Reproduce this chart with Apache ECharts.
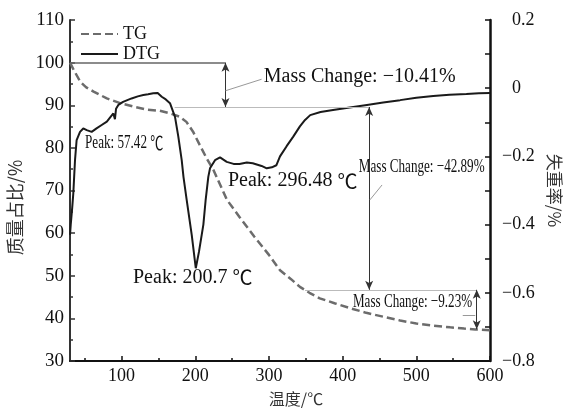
<!DOCTYPE html>
<html>
<head>
<meta charset="utf-8">
<script src="https://cdn.jsdelivr.net/npm/echarts@6/dist/echarts.min.js"></script>
<style>
html, body { margin: 0; padding: 0; background: #fff; }
#chart { width: 564px; height: 408px; }
</style>
</head>
<body>
<div id="chart"></div>
<script>
// TG 曲线 (左轴 质量占比 %)
const tgTemp = [30, 35, 44, 52, 62, 80, 98, 116, 134, 152, 166, 179, 188, 197, 206, 215, 225, 243, 260, 280, 300, 315, 330, 342, 355, 369, 390, 410, 432, 455, 478, 500, 523, 546, 565, 580, 600];
const tgMass = [100, 98.3, 95.5, 94.2, 93.2, 91.6, 90.5, 89.7, 89.0, 88.7, 88.1, 87.3, 86.1, 83.8, 80.7, 77.7, 74.7, 67.8, 63.8, 59.2, 54.9, 51.3, 49.2, 47.4, 46.0, 44.7, 43.5, 42.4, 41.3, 40.4, 39.5, 38.8, 38.3, 37.9, 37.6, 37.4, 37.2];

// DTG 曲线 (右轴 失重率 %)
const dtgTemp = [30, 31, 33, 34.5, 36.8, 39, 43.6, 48, 52.7, 59.4, 66, 73, 80, 88.8, 91, 92.5, 95.6, 102, 113.6, 122, 129.5, 136, 143, 149, 154.5, 160, 165.7, 172.5, 177, 181.6, 184, 188.4, 195.2, 198, 200.7, 205, 211, 214, 217.7, 220, 226.8, 233.6, 242.7, 252, 260, 270, 278, 290, 297, 304, 310, 315, 324, 333, 342, 349, 356, 370, 387, 405, 433, 455, 478, 500, 523, 545, 568, 585, 600];
const dtgRate = [-0.43, -0.40, -0.35, -0.308, -0.211, -0.152, -0.128, -0.118, -0.123, -0.128, -0.118, -0.108, -0.098, -0.074, -0.091, -0.06, -0.049, -0.040, -0.030, -0.024, -0.020, -0.018, -0.015, -0.014, -0.025, -0.033, -0.044, -0.084, -0.142, -0.211, -0.26, -0.328, -0.43, -0.48, -0.528, -0.48, -0.40, -0.33, -0.26, -0.235, -0.211, -0.203, -0.216, -0.222, -0.222, -0.218, -0.22, -0.228, -0.235, -0.232, -0.226, -0.20, -0.17, -0.142, -0.112, -0.093, -0.079, -0.07, -0.064, -0.058, -0.049, -0.042, -0.035, -0.028, -0.023, -0.019, -0.017, -0.015, -0.014];

// 横轴刻度
const xMajorTicks = [100, 200, 300, 400, 500, 600];
const xMinorTicks = [50, 150, 250, 350, 450, 550];

// 三个失重阶段
const stepTemp = [241, 436, 582];
const stepFrom = [100, 89.59, 46.70];
const stepTo = [89.59, 46.70, 37.47];
const stepStart = [30, 172, 349];
const stepLabel = ['Mass Change: \u221210.41%', 'Mass Change: \u221242.89%', 'Mass Change: \u22129.23%'];
const peakLabel = ['Peak: 57.42 {c|\u2103}', 'Peak: 200.7 {c|\u2103}', 'Peak: 296.48 {c|\u2103}'];

const serif = "'Liberation Serif', serif";
const cjk = "'Noto Sans CJK SC', sans-serif";

const dom = document.getElementById('chart');
const myChart = echarts.init(dom);

function fmtRight(v) {
    let s = (Math.round(v * 10) / 10).toString();
    if (Math.abs(v) < 1e-9) s = '0';
    if (v < -1e-9) return s.replace('-', '\u2212');
    return '{sp|}' + s;
}

// 标注线 (水平参考线, 双向箭头, 引线)
const markLines = [];
stepTemp.forEach((t, i) => {
    markLines.push([
        { coord: [stepStart[i], stepFrom[i]], symbol: 'none', lineStyle: { color: i === 0 ? '#666' : '#bbb', width: i === 0 ? 1.5 : 1, type: 'solid' } },
        { coord: [t, stepFrom[i]], symbol: 'none' }
    ]);
    markLines.push([
        { coord: [t, stepFrom[i]], lineStyle: { color: '#333', width: 1, type: 'solid' } },
        { coord: [t, stepTo[i]] }
    ]);
});
const leaders = [[[241, 93.4], [290, 96.1]], [[437, 67.8], [453.5, 71.3]], [[563, 40.8], [580, 40.8]]];
leaders.forEach(l => {
    markLines.push([
        { coord: l[0], symbol: 'none', lineStyle: { color: '#999', width: 1, type: 'solid' } },
        { coord: l[1], symbol: 'none' }
    ]);
});

const option = {
    backgroundColor: '#fff',
    animation: false,
    grid: { left: 70, right: 74, top: 20, bottom: 47, outerBoundsMode: 'none' },
    legend: {
        orient: 'vertical',
        left: 75,
        top: 20,
        itemWidth: 37,
        itemHeight: 14,
        itemGap: 2,
        data: ['TG', 'DTG'],
        itemStyle: { opacity: 0 },
        textStyle: { fontFamily: serif, fontSize: 18, color: '#111' }
    },
    xAxis: [{
        type: 'value',
        min: 30,
        max: 600,
        name: '温度/℃',
        nameLocation: 'middle',
        nameGap: 30,
        nameTextStyle: { fontFamily: cjk, fontSize: 16, color: '#333', padding: [0, 0, 0, 32] },
        axisLine: { onZero: false, lineStyle: { color: '#111', width: 2 } },
        axisTick: { inside: true, length: 5, customValues: xMajorTicks, lineStyle: { color: '#111', width: 1.5 } },
        axisLabel: { customValues: xMajorTicks, fontFamily: serif, fontSize: 18, color: '#111', margin: 6 },
        splitLine: { show: false }
    }, {
        type: 'value',
        min: 30,
        max: 600,
        position: 'bottom',
        axisLine: { show: false, onZero: false },
        axisTick: { inside: true, length: 3, customValues: xMinorTicks, lineStyle: { color: '#111', width: 1.5 } },
        axisLabel: { show: false },
        splitLine: { show: false }
    }],
    yAxis: [{
        type: 'value',
        min: 30,
        max: 110,
        interval: 10,
        name: '质量占比/%',
        nameLocation: 'middle',
        nameGap: 43,
        nameTextStyle: { fontFamily: cjk, fontSize: 18, color: '#333', padding: [0, 34, 0, 0] },
        axisLine: { show: true, onZero: false, lineStyle: { color: '#333', width: 2 } },
        axisTick: { inside: true, length: 5, lineStyle: { color: '#333', width: 1.5 } },
        minorTick: { show: true, splitNumber: 2, length: 3, lineStyle: { color: '#333', width: 1.5 } },
        axisLabel: { fontFamily: serif, fontSize: 19, color: '#111', margin: 6 },
        splitLine: { show: false }
    }, {
        type: 'value',
        min: -0.8,
        max: 0.2,
        interval: 0.2,
        position: 'right',
        name: '失重率/%',
        nameLocation: 'middle',
        nameRotate: -90,
        nameGap: 54,
        nameTextStyle: { fontFamily: cjk, fontSize: 17, color: '#333' },
        axisLine: { show: true, onZero: false, lineStyle: { color: '#111', width: 2.5 } },
        axisTick: { inside: true, length: 5, lineStyle: { color: '#111', width: 1.5 } },
        minorTick: { show: true, splitNumber: 2, length: 5, lineStyle: { color: '#111', width: 1.5 } },
        axisLabel: {
            fontFamily: serif, fontSize: 18, color: '#111', margin: 12,
            formatter: fmtRight,
            rich: { sp: { width: 10 } }
        },
        splitLine: { show: false }
    }],
    series: [{
        name: 'TG',
        type: 'line',
        xAxisIndex: 0,
        yAxisIndex: 0,
        symbol: 'none',
        data: tgTemp.map((t, i) => [t, tgMass[i]]),
        lineStyle: { color: '#6c6c6c', width: 2.5, type: [8, 4] },
        itemStyle: { color: '#6c6c6c' },
        z: 3,
        markLine: {
            silent: true,
            symbol: ['arrow', 'arrow'],
            symbolSize: [6, 9],
            label: { show: false },
            data: markLines
        }
    }, {
        name: 'DTG',
        type: 'line',
        xAxisIndex: 0,
        yAxisIndex: 1,
        symbol: 'none',
        data: dtgTemp.map((t, i) => [t, dtgRate[i]]),
        lineStyle: { color: '#1a1a1a', width: 2 },
        itemStyle: { color: '#1a1a1a' },
        z: 4
    }]
};

myChart.setOption(option);

// 文字标注 (位置按数据坐标换算)
const annoText = stepLabel.concat(peakLabel);
const annoPos = [[293, 96.7], [422, 75.6], [414, 43.9], [50.4, 81.1], [115.5, 49.5], [244.4, 72.2]];
const annoNarrow = [false, true, true, true, false, false];
myChart.setOption({
    graphic: annoText.map((t, i) => {
        const p = myChart.convertToPixel({ xAxisIndex: 0, yAxisIndex: 0 }, annoPos[i]);
        const size = annoNarrow[i] ? 19 : 20;
        return {
            type: 'text',
            x: p[0],
            y: p[1],
            scaleX: annoNarrow[i] ? 0.69 : 1,
            z: 10,
            style: {
                text: t,
                fontFamily: serif,
                fontSize: size,
                fill: '#111',
                align: 'left',
                verticalAlign: 'middle',
                rich: { c: { fontFamily: cjk, fontSize: size, fill: '#111' } }
            }
        };
    })
});

window.addEventListener('resize', function () {
    myChart.resize();
});
</script>
</body>
</html>
